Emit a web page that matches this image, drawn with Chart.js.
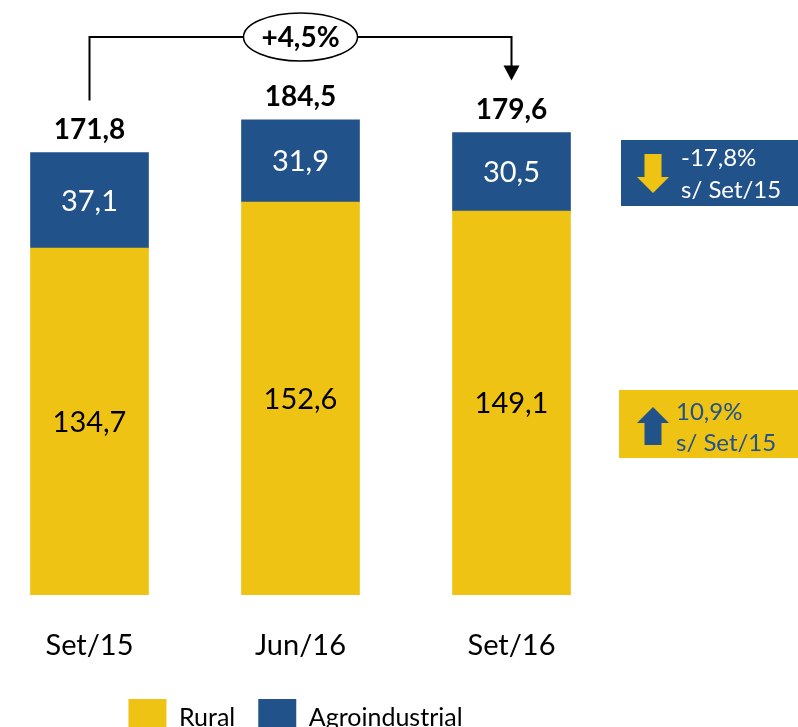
<!DOCTYPE html>
<html>
<head>
<meta charset="utf-8">
<script src="https://cdn.jsdelivr.net/npm/chart.js@4"></script>
<style>
  html, body { margin: 0; padding: 0; background: #fff; overflow: hidden; }
  #wrap { position: absolute; left: -16px; top: 0; width: 814px; height: 750px; }
</style>
</head>
<body>
<div id="wrap"><canvas id="chart"></canvas></div>
<script>
const categories = ["Set/15", "Jun/16", "Set/16"];
const rural = [134.7, 152.6, 149.1];
const agro = [37.1, 31.9, 30.5];
const totals = [171.8, 184.5, 179.6];
const growthLabel = "+4,5%";
const agroChange = ["-17,8%", "s/ Set/15"];
const ruralChange = ["10,9%", "s/ Set/15"];

const YELLOW = "#EFC314";
const BLUE = "#22528A";
const FONT = "Lato";
const OFFSET = 16; // canvas starts 16px left of the page

function fmt(v) {
  return v.toFixed(1).replace(".", ",");
}

// arrow with shaft + head, dir = 1 down, -1 up
function drawArrow(ctx, cx, top, bottom, headLen, shaftW, headW, dir, color) {
  ctx.fillStyle = color;
  ctx.beginPath();
  if (dir === 1) {
    const hy = bottom - headLen;
    ctx.moveTo(cx - shaftW / 2, top);
    ctx.lineTo(cx + shaftW / 2, top);
    ctx.lineTo(cx + shaftW / 2, hy);
    ctx.lineTo(cx + headW / 2, hy);
    ctx.lineTo(cx, bottom);
    ctx.lineTo(cx - headW / 2, hy);
    ctx.lineTo(cx - shaftW / 2, hy);
  } else {
    const hy = top + headLen;
    ctx.moveTo(cx, top);
    ctx.lineTo(cx + headW / 2, hy);
    ctx.lineTo(cx + shaftW / 2, hy);
    ctx.lineTo(cx + shaftW / 2, bottom);
    ctx.lineTo(cx - shaftW / 2, bottom);
    ctx.lineTo(cx - shaftW / 2, hy);
    ctx.lineTo(cx - headW / 2, hy);
  }
  ctx.closePath();
  ctx.fill();
}

// side note box: page coords
function drawNote(ctx, x, y, w, h, bg, arrowColor, dir, lines, textColor, textX, lineY) {
  ctx.fillStyle = bg;
  ctx.fillRect(x + OFFSET, y, w, h);
  if (dir === 1) {
    drawArrow(ctx, 653 + OFFSET, y + 14, y + 53, 16, 17, 32, 1, arrowColor);
  } else {
    drawArrow(ctx, 653 + OFFSET, y + 17, y + 55, 16, 17, 32, -1, arrowColor);
  }
  ctx.fillStyle = textColor;
  ctx.font = "24px " + FONT;
  ctx.textAlign = "left";
  ctx.textBaseline = "middle";
  ctx.fillText(lines[0], textX + OFFSET, lineY[0]);
  ctx.fillText(lines[1], textX + OFFSET, lineY[1]);
}

const annotations = {
  id: "annotations",
  afterLayout(chart) {
    // legend sits a little left of the plot centre in the original
    chart.legend.left -= 5;
    chart.legend.right -= 5;
  },
  afterDatasetsDraw(chart) {
    const ctx = chart.ctx;
    ctx.save();
    ctx.textAlign = "center";
    ctx.textBaseline = "middle";

    // segment values
    chart.data.datasets.forEach((ds, i) => {
      const meta = chart.getDatasetMeta(i);
      meta.data.forEach((bar, j) => {
        ctx.fillStyle = i === 0 ? "#000" : "#fff";
        ctx.font = "29px " + FONT;
        ctx.fillText(fmt(ds.data[j]), bar.x, (bar.y + bar.base) / 2 + 1);
      });
    });

    // totals above the bars
    const tops = chart.getDatasetMeta(1).data;
    ctx.fillStyle = "#000";
    ctx.font = "bold 28px " + FONT;
    tops.forEach((bar, j) => ctx.fillText(fmt(totals[j]), bar.x, bar.y - 23));

    // bracket from first to last bar
    const x0 = tops[0].x, x2 = tops[2].x, x1 = tops[1].x;
    const lineY = 37;
    const tipY = tops[2].y - 52;
    ctx.strokeStyle = "#000";
    ctx.lineWidth = 2;
    ctx.beginPath();
    ctx.moveTo(x0, tops[0].y - 52);
    ctx.lineTo(x0, lineY);
    ctx.lineTo(x2, lineY);
    ctx.lineTo(x2, tipY - 14);
    ctx.stroke();
    ctx.fillStyle = "#000";
    ctx.beginPath();
    ctx.moveTo(x2 - 8, tipY - 15);
    ctx.lineTo(x2 + 8, tipY - 15);
    ctx.lineTo(x2, tipY);
    ctx.closePath();
    ctx.fill();

    // ellipse with growth label
    ctx.beginPath();
    ctx.ellipse(x1, lineY, 57, 24, 0, 0, Math.PI * 2);
    ctx.fillStyle = "#fff";
    ctx.fill();
    ctx.lineWidth = 1.5;
    ctx.stroke();
    ctx.fillStyle = "#000";
    ctx.font = "bold 28px " + FONT;
    ctx.fillText(growthLabel, x1, lineY + 1);

    // side notes
    drawNote(ctx, 621, 140, 177, 66, BLUE, YELLOW, 1, agroChange, "#fff", 681, [158, 190]);
    drawNote(ctx, 619, 390, 179, 68, YELLOW, BLUE, -1, ruralChange, BLUE, 676, [412, 443]);

    ctx.restore();
  }
};

new Chart(document.getElementById("chart"), {
  type: "bar",
  data: {
    labels: categories,
    datasets: [
      { label: "Rural", data: rural, backgroundColor: YELLOW },
      { label: "Agroindustrial", data: agro, backgroundColor: BLUE }
    ]
  },
  options: {
    responsive: true,
    maintainAspectRatio: false,
    animation: false,
    events: [],
    layout: { padding: { top: 80, right: 181, left: 0, bottom: 3 } },
    datasets: { bar: { barThickness: 118 } },
    scales: {
      x: {
        stacked: true,
        grid: { display: false, drawTicks: false },
        border: { display: false },
        ticks: { color: "#000", font: { family: FONT, size: 29 }, padding: 33 },
        afterFit(scale) { scale.height = 81; }
      },
      y: { stacked: true, display: false, min: 0, max: 200 }
    },
    plugins: {
      tooltip: { enabled: false },
      legend: {
        position: "bottom",
        labels: {
          color: "#000",
          font: { family: FONT, size: 25 },
          boxWidth: 38,
          boxHeight: 38,
          padding: 23
        }
      }
    }
  },
  plugins: [annotations]
});
</script>
</body>
</html>
